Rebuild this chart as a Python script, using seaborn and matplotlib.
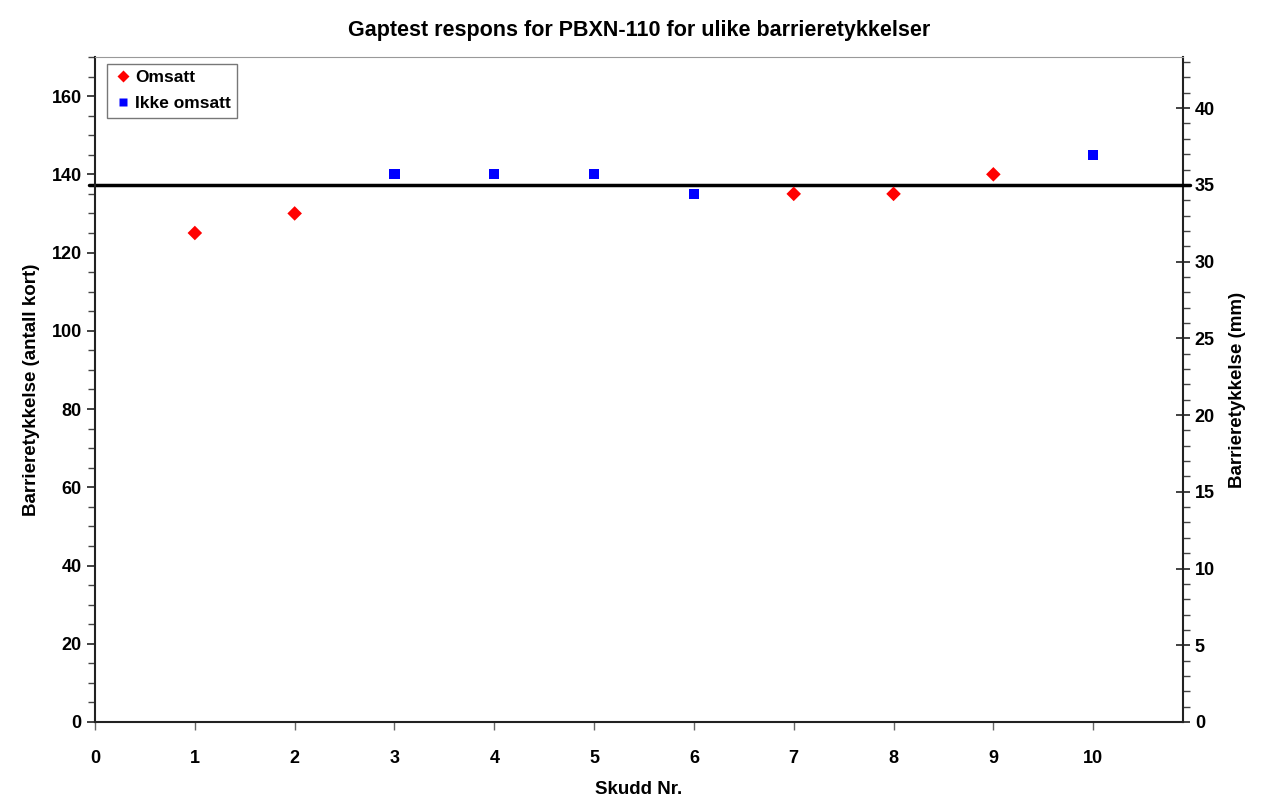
import numpy as np
import pandas as pd
import seaborn as sns
import matplotlib.pyplot as plt
from matplotlib.ticker import MultipleLocator

# === Data ===
omsatt_x = [1, 2, 7, 8, 9]
omsatt_y = [125, 130, 135, 135, 140]
ikke_x = [3, 4, 5, 6, 10]
ikke_y = [140, 140, 140, 135, 145]
limit_mm = 35
cards_per_mm = 3.923

df = pd.DataFrame({
    "skudd": omsatt_x + ikke_x,
    "kort": omsatt_y + ikke_y,
    "status": ["Omsatt"] * len(omsatt_x) + ["Ikke omsatt"] * len(ikke_x),
})

sns.set_style("white")
plt.rcParams["font.family"] = ["Liberation Sans", "DejaVu Sans"]
plt.rcParams["font.weight"] = "bold"
plt.rcParams["text.color"] = "black"
plt.rcParams["axes.labelcolor"] = "black"

fig = plt.figure(figsize=(12.62, 7.99), dpi=100)
ax = fig.add_axes([0.0753, 0.0964, 0.8621, 0.8323])

sns.scatterplot(data=df, x="skudd", y="kort", hue="status", style="status",
                markers={"Omsatt": "D", "Ikke omsatt": "s"},
                palette={"Omsatt": "#ff0000", "Ikke omsatt": "#0000ff"},
                s=55, edgecolor="none", ax=ax, zorder=3)

ax.set_xlim(0, 10.9)
ax.set_ylim(0, 170)
ax.xaxis.set_major_locator(MultipleLocator(1))
ax.yaxis.set_major_locator(MultipleLocator(20))
ax.yaxis.set_minor_locator(MultipleLocator(5))
ax.tick_params(axis="y", which="major", direction="out", length=6, width=1.2, labelsize=13, colors="#222222", labelcolor="black")
ax.tick_params(axis="y", which="minor", direction="out", length=5, width=1, colors="#444444", left=True)
ax.tick_params(axis="x", which="major", direction="out", length=6, width=1, labelsize=13, colors="#666666", labelcolor="black", pad=14, bottom=True)
for lab in ax.get_xticklabels() + ax.get_yticklabels():
    lab.set_fontweight("bold")

ax.spines["left"].set_color("#222222")
ax.spines["left"].set_linewidth(1.5)
ax.spines["bottom"].set_color("#222222")
ax.spines["bottom"].set_linewidth(1.5)
ax.spines["top"].set_color("#999999")
ax.spines["right"].set_visible(False)

ax.axhline(limit_mm * cards_per_mm, xmin=-0.006, xmax=1.006, color="black", lw=2.5, clip_on=False, zorder=2)

ax.set_xlabel("Skudd Nr.", fontsize=13.5, fontweight="bold", labelpad=10)
ax.set_ylabel("Barrieretykkelse (antall kort)", fontsize=13.5, fontweight="bold", labelpad=8)
ax.set_title("Gaptest respons for PBXN-110 for ulike barrieretykkelser", fontsize=15.5, fontweight="bold", pad=15)

# right axis in mm
ax2 = ax.twinx()
ax2.set_ylim(0, 170 / cards_per_mm)
ax2.yaxis.set_major_locator(MultipleLocator(5))
ax2.yaxis.set_minor_locator(MultipleLocator(1))
ax2.tick_params(axis="y", which="major", direction="inout", length=10, width=1.2, labelsize=13, colors="#222222", labelcolor="black", right=True)
ax2.tick_params(axis="y", which="minor", direction="out", length=5, width=1, colors="#444444", right=True)
for lab in ax2.get_yticklabels():
    lab.set_fontweight("bold")
for s in ["left", "top", "bottom"]:
    ax2.spines[s].set_visible(False)
ax2.spines["right"].set_color("#222222")
ax2.spines["right"].set_linewidth(1.5)
ax2.set_ylabel("Barrieretykkelse (mm)", fontsize=13.5, fontweight="bold", labelpad=10)

leg = ax.legend(loc="upper left", bbox_to_anchor=(0.008, 0.995), borderaxespad=0.2, frameon=True, fancybox=False,
                edgecolor="#555555", prop={"weight": "bold", "size": 12.5}, handletextpad=0.15,
                borderpad=0.35, labelspacing=0.65, handlelength=1.1, markerscale=0.8)
leg.get_frame().set_linewidth(1.0)
ax.set_zorder(ax2.get_zorder() + 1)
ax.patch.set_visible(False)

fig.savefig("out.png", dpi=100)
